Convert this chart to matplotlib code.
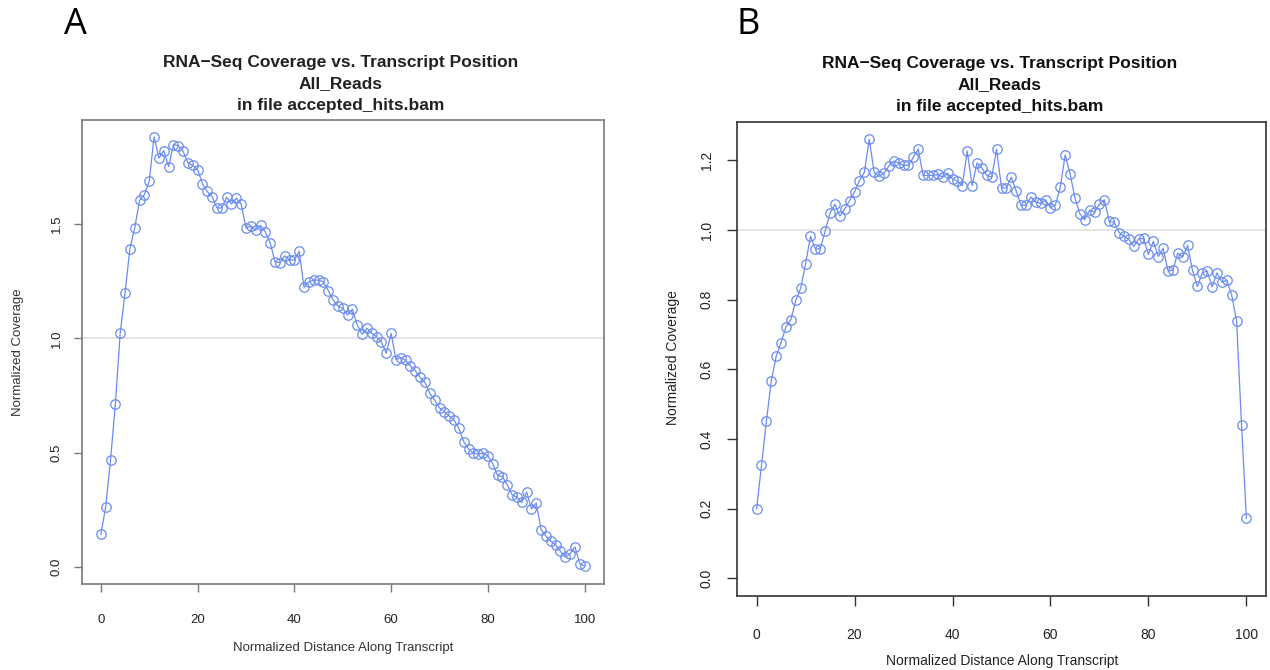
import numpy as np
import matplotlib
matplotlib.use("Agg")
import matplotlib.pyplot as plt

plt.rcParams['font.family'] = ['Liberation Sans', 'DejaVu Sans']

positions = list(range(101))

coverage_a = [
    0.142, 0.262, 0.468, 0.712, 1.024, 1.198, 1.393, 1.483, 1.604, 1.629,
    1.688, 1.882, 1.789, 1.822, 1.752, 1.848, 1.844, 1.819, 1.768, 1.757,
    1.739, 1.677, 1.643, 1.620, 1.571, 1.571, 1.618, 1.589, 1.614, 1.588,
    1.483, 1.492, 1.473, 1.495, 1.466, 1.418, 1.335, 1.332, 1.361, 1.343,
    1.343, 1.381, 1.223, 1.248, 1.255, 1.255, 1.248, 1.209, 1.168, 1.141,
    1.132, 1.102, 1.128, 1.058, 1.018, 1.044, 1.022, 1.008, 0.983, 0.935,
    1.022, 0.907, 0.916, 0.904, 0.878, 0.858, 0.829, 0.807, 0.759, 0.730,
    0.696, 0.679, 0.660, 0.643, 0.606, 0.548, 0.516, 0.497, 0.494, 0.497,
    0.486, 0.451, 0.400, 0.395, 0.359, 0.315, 0.305, 0.282, 0.327, 0.254,
    0.279, 0.163, 0.134, 0.112, 0.097, 0.068, 0.042, 0.058, 0.087, 0.013,
    0.003,
]

coverage_b = [
    0.199, 0.324, 0.451, 0.567, 0.637, 0.677, 0.722, 0.743, 0.798, 0.833,
    0.903, 0.982, 0.946, 0.946, 0.998, 1.049, 1.074, 1.040, 1.061, 1.085,
    1.110, 1.142, 1.166, 1.261, 1.166, 1.154, 1.163, 1.184, 1.198, 1.193,
    1.186, 1.186, 1.209, 1.233, 1.157, 1.157, 1.157, 1.160, 1.152, 1.163,
    1.147, 1.141, 1.128, 1.227, 1.128, 1.193, 1.178, 1.157, 1.152, 1.232,
    1.121, 1.121, 1.152, 1.112, 1.071, 1.071, 1.095, 1.080, 1.077, 1.087,
    1.064, 1.072, 1.123, 1.216, 1.162, 1.092, 1.047, 1.030, 1.057, 1.052,
    1.074, 1.087, 1.025, 1.022, 0.993, 0.982, 0.973, 0.953, 0.975, 0.976,
    0.930, 0.968, 0.924, 0.948, 0.882, 0.886, 0.934, 0.923, 0.956, 0.884,
    0.838, 0.878, 0.882, 0.837, 0.877, 0.850, 0.856, 0.813, 0.739, 0.441,
    0.172,
]

x_ticks = [0, 20, 40, 60, 80, 100]
y_ticks_a = [0.0, 0.5, 1.0, 1.5]
y_ticks_b = [0.0, 0.2, 0.4, 0.6, 0.8, 1.0, 1.2]

title_lines = "RNA\u2212Seq Coverage vs. Transcript Position\nAll_Reads\nin file accepted_hits.bam"
xlabel = "Normalized Distance Along Transcript"
ylabel = "Normalized Coverage"

W, H = 1270, 670
fig = plt.figure(figsize=(W / 100, H / 100), dpi=100)


def px_axes(l, t, r, b):
    return fig.add_axes([l / W, 1 - b / H, (r - l) / W, (b - t) / H])


line_col = '#6a8cf0'


def r_ylim(vals, from_zero):
    lo = 0.0 if from_zero else min(vals)
    hi = max(vals)
    lo = min(lo, min(vals))
    d = 0.04 * (hi - lo)
    return lo - d, hi + d


def draw(ax, vals, yticks, ylim, frame_col, fs, tlen, xpad, ypad):
    ax.axhline(1.0, color='#dcdcdc', lw=1.1, zorder=1)
    ax.plot(positions, vals, color=line_col, lw=0.9, zorder=2,
            marker='o', markersize=6.8, markerfacecolor='none',
            markeredgecolor=line_col, markeredgewidth=0.9)
    ax.set_xlim(-4, 104)
    ax.set_ylim(*ylim)
    ax.set_xticks(x_ticks)
    ax.set_yticks(yticks)
    ax.set_xticklabels([str(t) for t in x_ticks], fontsize=fs)
    ax.set_yticklabels([f"{t:.1f}" for t in yticks], fontsize=fs,
                       rotation=90, va='center')
    for s in ax.spines.values():
        s.set_color(frame_col)
        s.set_linewidth(1.2)
    ax.tick_params(direction='out', length=tlen, width=1.0, color=frame_col,
                   labelcolor='#222222')
    ax.tick_params(axis='x', pad=xpad)
    ax.tick_params(axis='y', pad=ypad)


# Panel A
axA = px_axes(81.5, 119.7, 604, 584)
draw(axA, coverage_a, y_ticks_a, r_ylim(coverage_a, True), '#7a7a7a', 9.5,
     6, 15.5, 7.5)
fig.text(341 / W, 1 - 84 / H, title_lines, ha='center', va='center',
         fontsize=12.5, fontweight='bold', linespacing=1.55, color='#222222')
fig.text(343 / W, 1 - 648 / H, xlabel, ha='center', va='center',
         fontsize=9.5, color='#333333')
fig.text(18 / W, 1 - 352 / H, ylabel, ha='center', va='center',
         rotation=90, fontsize=9.5, color='#333333')
fig.text(75 / W, 1 - 25 / H, "A", ha='center', va='center', fontsize=26,
         family=['Open Sans', 'DejaVu Sans'])

# Panel B
axB = px_axes(737, 121.7, 1266, 595.7)
draw(axB, coverage_b, y_ticks_b, r_ylim(coverage_b, True), '#333333', 10,
     7.2, 16, 9.5)
fig.text(1000 / W, 1 - 85 / H, title_lines, ha='center', va='center',
         fontsize=12.5, fontweight='bold', linespacing=1.55, color='#111111')
fig.text(1002 / W, 1 - 661 / H, xlabel, ha='center', va='center',
         fontsize=10, color='#222222')
fig.text(673 / W, 1 - 358 / H, ylabel, ha='center', va='center',
         rotation=90, fontsize=10, color='#222222')
fig.text(748 / W, 1 - 25 / H, "B", ha='center', va='center', fontsize=26,
         family=['Open Sans', 'DejaVu Sans'])

fig.savefig("out.png", dpi=100)
